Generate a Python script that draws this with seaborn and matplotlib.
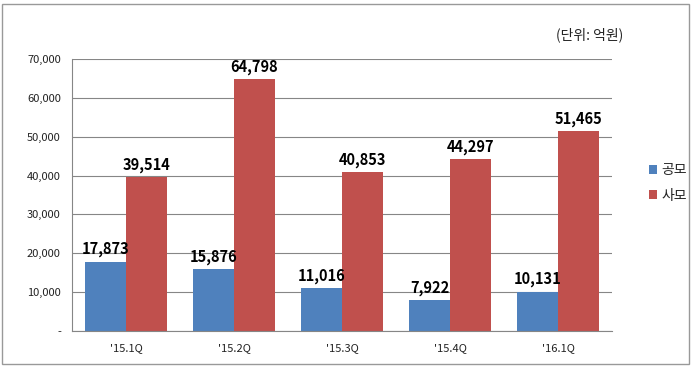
import numpy as np
import pandas as pd
import matplotlib
matplotlib.use("Agg")
import matplotlib.pyplot as plt
import seaborn as sns
from matplotlib.patches import Rectangle, Patch

# data
quarters = ["'15.1Q", "'15.2Q", "'15.3Q", "'15.4Q", "'16.1Q"]
series_names = ["공모", "사모"]
public_vals = [17873, 15876, 11016, 7922, 10131]
private_vals = [39514, 64798, 40853, 44297, 51465]
y_ticks = [0, 10000, 20000, 30000, 40000, 50000, 60000, 70000]
colors = ["#4F81BD", "#C0504D"]

df = pd.DataFrame({
    "quarter": quarters * 2,
    "type": [series_names[0]] * 5 + [series_names[1]] * 5,
    "value": public_vals + private_vals,
})

sns.set_style("white")
plt.rcParams["font.family"] = ["Noto Sans CJK KR", "DejaVu Sans"]

W, H = 693, 368
fig = plt.figure(figsize=(W / 100, H / 100), dpi=100)
ax = fig.add_axes([72 / W, 1 - 331 / H, 540 / W, 272 / H])

sns.barplot(data=df, x="quarter", y="value", hue="type", order=quarters,
            hue_order=series_names, palette=colors, width=0.76,
            saturation=1, gap=0, ax=ax, legend=False, edgecolor="none")

for cont in ax.containers:
    ax.bar_label(cont, labels=[f"{v:,.0f}" for v in cont.datavalues],
                 padding=3, fontsize=10.5, fontweight="bold", color="black")

ax.set_ylim(0, 70000)
ax.set_xlim(-0.5, len(quarters) - 0.5)
ax.set_yticks(y_ticks)
ax.set_yticklabels(["-"] + [f"{v:,}" for v in y_ticks[1:]], fontsize=8,
                   color="#222222")
ax.set_xticks(range(len(quarters)))
ax.set_xticklabels(quarters, fontsize=8, color="#222222")
ax.tick_params(axis="x", length=0, pad=9)
ax.set_xticks(np.arange(-0.5, len(quarters)), minor=True)
ax.tick_params(axis="x", which="minor", length=4, color="#868686", direction="out")
ax.tick_params(axis="y", length=4, color="#868686", direction="out", pad=4)
ax.yaxis.grid(True, color="#868686", linewidth=0.8)
ax.set_axisbelow(True)
ax.set_xlabel("")
ax.set_ylabel("")
for side in ["top", "right"]:
    ax.spines[side].set_visible(False)
for side in ["left", "bottom"]:
    ax.spines[side].set_color("#868686")
    ax.spines[side].set_linewidth(0.8)

handles = [Patch(facecolor=c, edgecolor="none") for c in colors]
fig.legend(handles, series_names, loc="center left",
           bbox_to_anchor=(636 / W, 1 - 183 / H), frameon=False,
           fontsize=10, handlelength=0.6, handleheight=0.6,
           handletextpad=0.3, labelspacing=0.8)

fig.text(590 / W, 1 - 35 / H, "(단위: 억원)", ha="center", va="center",
         fontsize=10, color="#222222")

fig.patches.append(Rectangle((2 / W, 4 / H), 687 / W, 360 / H,
                             transform=fig.transFigure, fill=False,
                             edgecolor="#999999", linewidth=1))

fig.savefig("out.png", dpi=100)
